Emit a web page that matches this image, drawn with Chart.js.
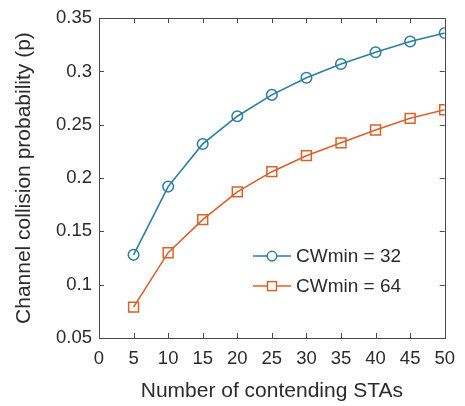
<!DOCTYPE html>
<html>
<head>
<meta charset="utf-8">
<script src="https://cdn.jsdelivr.net/npm/chart.js@4"></script>
<style>
  html, body { margin: 0; padding: 0; background: #ffffff; }
  #wrap { width: 465px; height: 406px; position: relative; }
</style>
</head>
<body>
<div id="wrap"><canvas id="c" width="465" height="406"></canvas></div>
<script>
const stas = [5, 10, 15, 20, 25, 30, 35, 40, 45, 50];
const cw32 = [0.128, 0.192, 0.232, 0.258, 0.278, 0.294, 0.307, 0.318, 0.328, 0.336];
const cw64 = [0.079, 0.130, 0.161, 0.187, 0.206, 0.221, 0.233, 0.245, 0.256, 0.264];
const seriesNames = ['CWmin = 32', 'CWmin = 64'];
const xTitle = 'Number of contending STAs';
const yTitle = 'Channel collision probability (p)';

const FONT = '"Liberation Sans", Arial, Helvetica, sans-serif';
const TXT = '#2b2b2b';
const BLUE = '#2a7ea3';
const ORANGE = '#d9622b';

const toPts = (xs, ys) => xs.map((x, i) => ({x: x, y: ys[i]}));

const boxTicks = {
  id: 'boxTicks',
  afterDatasetsDraw(chart) {
    const {ctx, chartArea: a, scales} = chart;
    ctx.save();
    ctx.strokeStyle = '#4a4a4a';
    ctx.lineWidth = 1;
    ctx.strokeRect(Math.round(a.left) + 0.5, Math.round(a.top) + 0.5,
                   Math.round(a.right - a.left), Math.round(a.bottom - a.top));
    const L = 5;
    ctx.beginPath();
    scales.x.ticks.forEach(t => {
      const px = Math.round(scales.x.getPixelForValue(t.value)) + 0.5;
      ctx.moveTo(px, a.bottom); ctx.lineTo(px, a.bottom - L);
      ctx.moveTo(px, a.top); ctx.lineTo(px, a.top + L);
    });
    scales.y.ticks.forEach(t => {
      const py = Math.round(scales.y.getPixelForValue(t.value)) + 0.5;
      ctx.moveTo(a.left, py); ctx.lineTo(a.left + L, py);
      ctx.moveTo(a.right, py); ctx.lineTo(a.right - L, py);
    });
    ctx.stroke();

    // legend (no box), inside the axes
    const rows = [a.top + 238, a.top + 268];
    const x0 = a.left + 154, x1 = a.left + 192, xm = (x0 + x1) / 2;
    chart.data.datasets.forEach((ds, i) => {
      const y = rows[i];
      ctx.strokeStyle = ds.borderColor;
      ctx.lineWidth = 1.5;
      ctx.beginPath(); ctx.moveTo(x0, y); ctx.lineTo(x1, y); ctx.stroke();
      if (ds.pointStyle === 'circle') {
        ctx.beginPath(); ctx.arc(xm, y, 4.8, 0, Math.PI * 2);
        ctx.fillStyle = '#ffffff'; ctx.fill(); ctx.stroke();
      } else {
        ctx.fillStyle = '#ffffff';
        ctx.fillRect(xm - 4.5, y - 4.5, 9, 9);
        ctx.strokeRect(xm - 4.5, y - 4.5, 9, 9);
      }
      ctx.fillStyle = TXT;
      ctx.font = '19px ' + FONT;
      ctx.textBaseline = 'middle';
      ctx.textAlign = 'left';
      ctx.fillText(ds.label, x1 + 5, y + 1);
    });
    ctx.restore();
  }
};

new Chart(document.getElementById('c'), {
  type: 'scatter',
  data: {
    datasets: [
      {
        label: seriesNames[0],
        data: toPts(stas, cw32),
        showLine: true,
        borderColor: BLUE,
        borderWidth: 1.6,
        pointStyle: 'circle',
        pointRadius: 5.3,
        pointBorderWidth: 1.5,
        pointBackgroundColor: 'rgba(255,255,255,0)',
        pointBorderColor: BLUE,
        tension: 0
      },
      {
        label: seriesNames[1],
        data: toPts(stas, cw64),
        showLine: true,
        borderColor: ORANGE,
        borderWidth: 1.6,
        pointStyle: 'rect',
        pointRadius: 7,
        pointBorderWidth: 1.5,
        pointBackgroundColor: 'rgba(255,255,255,0)',
        pointBorderColor: ORANGE,
        tension: 0
      }
    ]
  },
  options: {
    responsive: false,
    animation: false,
    layout: { padding: { left: 0, right: 19, top: 15, bottom: 0 } },
    plugins: { legend: { display: false }, tooltip: { enabled: false } },
    scales: {
      x: {
        type: 'linear',
        min: 0, max: 50,
        afterFit(s) { s.height = 406 - 338; },
        grid: { display: false, drawTicks: false },
        border: { display: false },
        ticks: {
          stepSize: 5,
          padding: 10,
          color: TXT,
          font: { family: FONT, size: 18.5 },
          maxRotation: 0,
          autoSkip: false
        },
        title: {
          display: true,
          text: xTitle,
          color: TXT,
          font: { family: FONT, size: 21 },
          padding: { top: 0, bottom: 2 }
        }
      },
      y: {
        type: 'linear',
        min: 0.05, max: 0.35,
        afterFit(s) { s.width = 99; },
        grid: { display: false, drawTicks: false },
        border: { display: false },
        ticks: {
          stepSize: 0.05,
          padding: 7,
          color: TXT,
          font: { family: FONT, size: 18.5 },
          callback: v => String(Number(v.toFixed(2)))
        },
        title: {
          display: true,
          text: yTitle,
          color: TXT,
          font: { family: FONT, size: 21 },
          padding: { top: 12, bottom: 0 }
        }
      }
    }
  },
  plugins: [boxTicks]
});
</script>
</body>
</html>
